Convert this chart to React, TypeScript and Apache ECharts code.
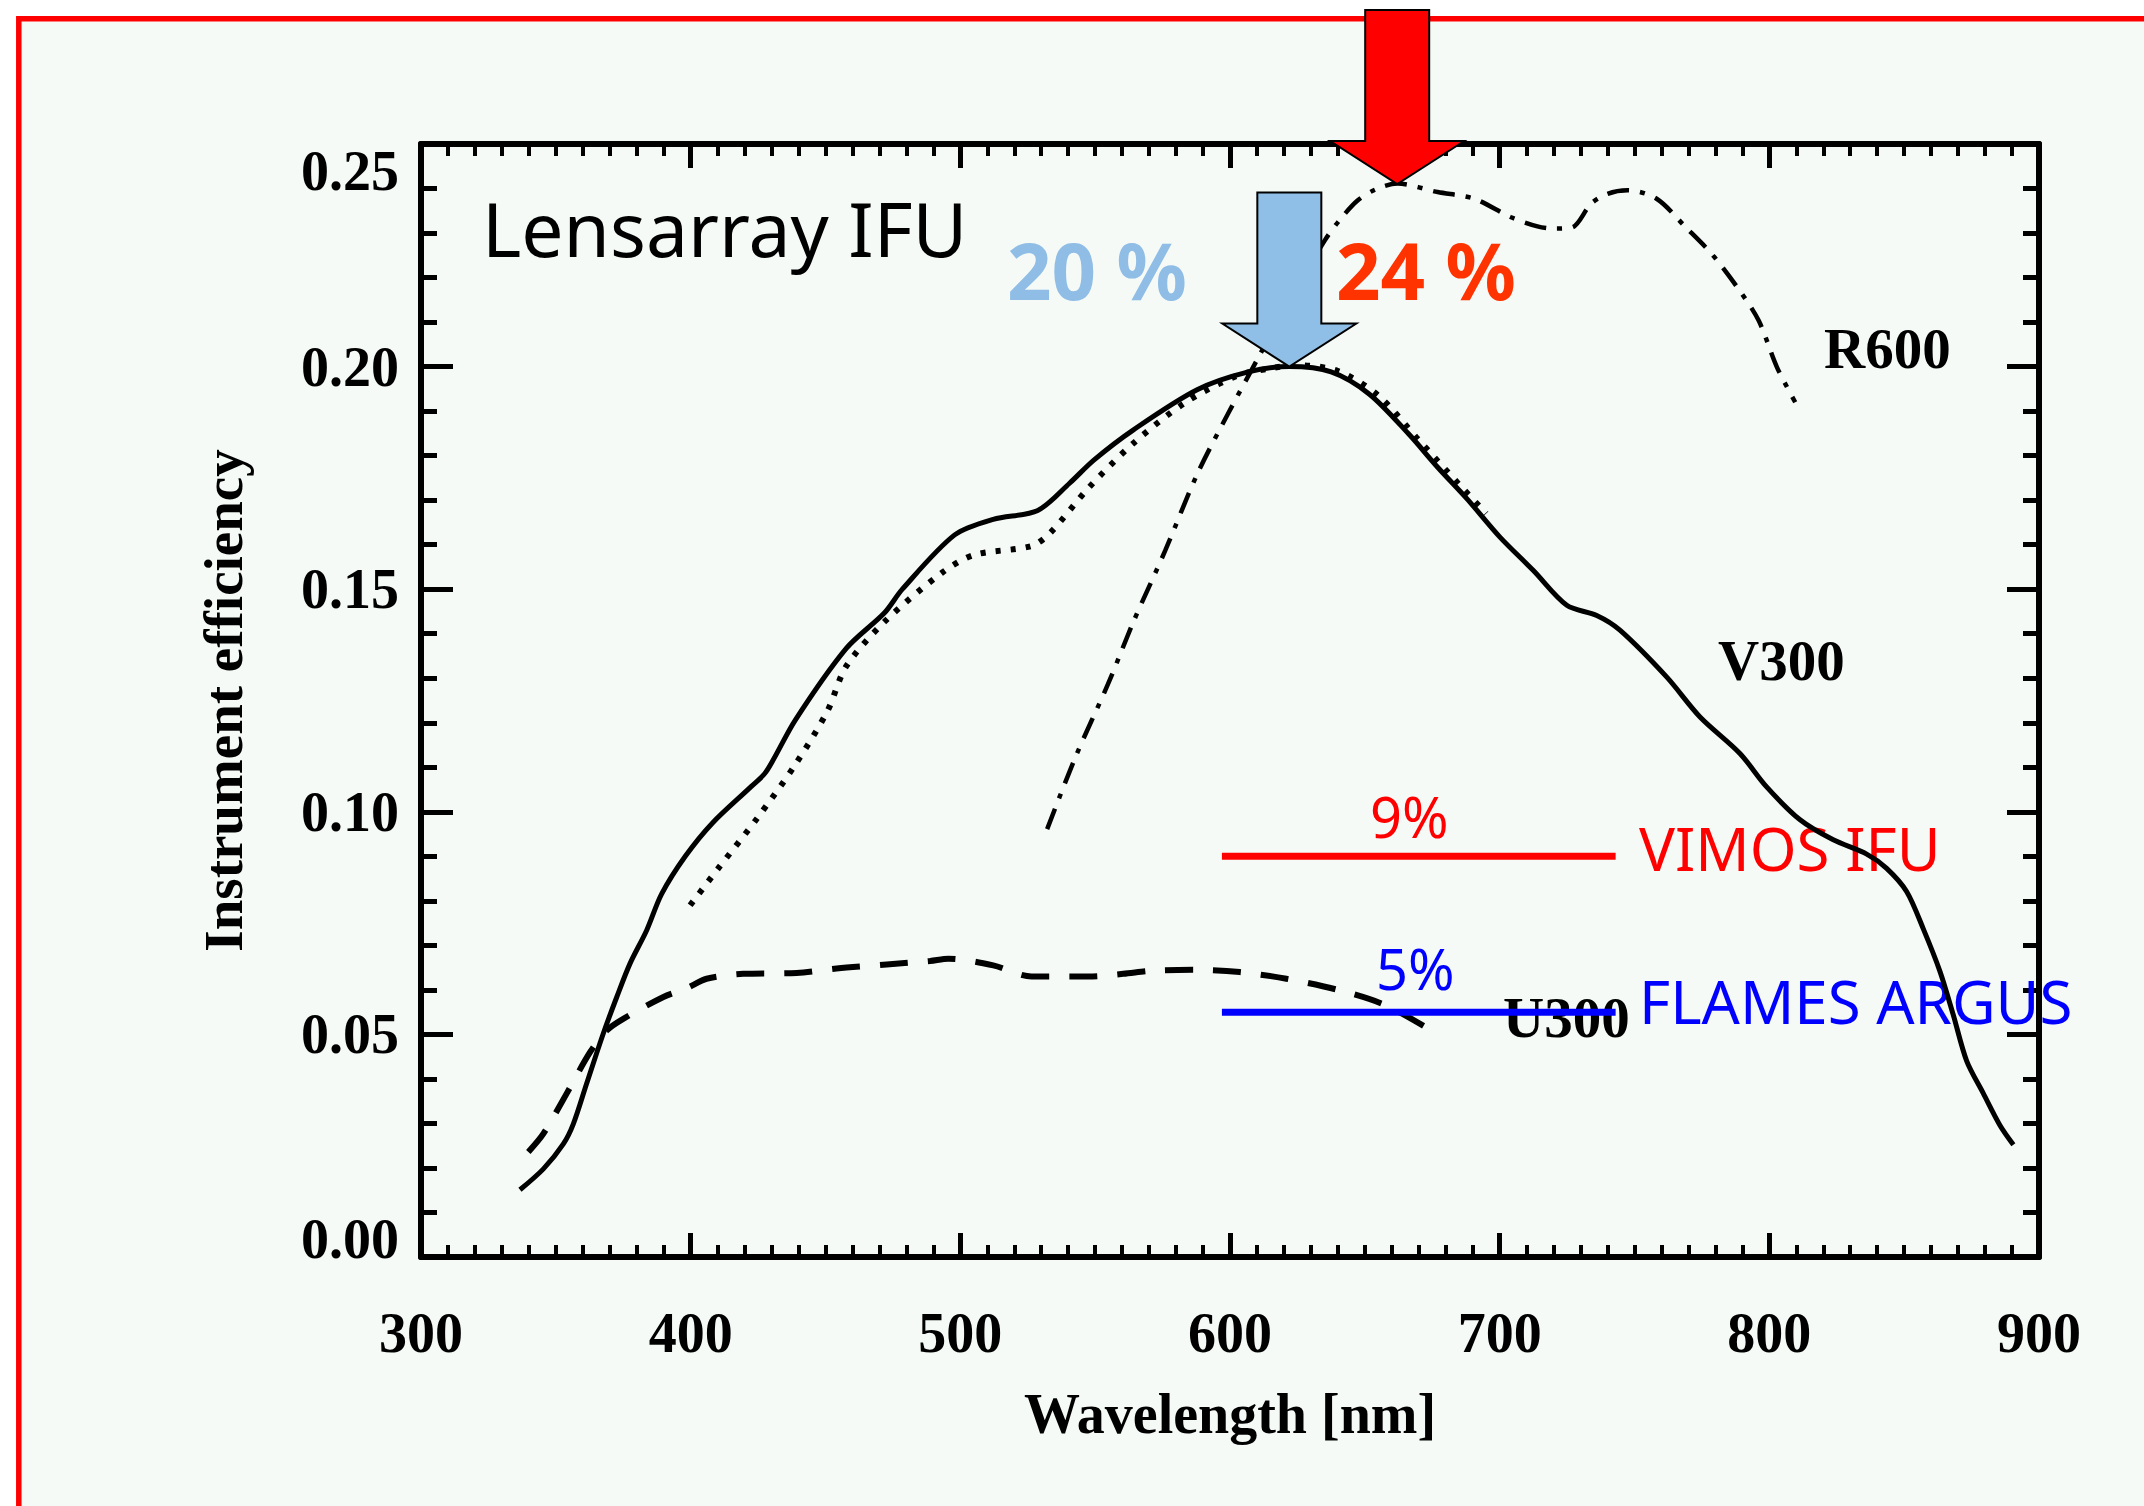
import React, { useEffect, useRef } from "react";
import * as echarts from "echarts";

// ---- data ----
const xTicks = { min: 300, max: 900, interval: 100 };
const yTicks = { min: 0, max: 0.25, interval: 0.05 };

const v300Wavelength = [336.7, 345.4, 352.8, 356.5, 361.4, 367.6, 372.6, 377.5, 383.7, 389.2, 398, 408.1, 422.3, 428, 438.8, 457.7, 471.9, 478.5, 497.9, 512.2, 528.7, 540.5, 549.5, 564.2, 587.8, 606.8, 622, 637.5, 651.7, 666.2, 677, 687.9, 700.1, 712.5, 724.9, 736, 744.6, 761.9, 774.3, 789.1, 799, 811.4, 823.7, 836.1, 843.5, 850.9, 857.1, 863.3, 868.2, 873.2, 879.3, 885.5, 890.5];
const v300Efficiency = [0.0151, 0.0198, 0.0254, 0.0299, 0.0389, 0.0502, 0.0584, 0.0659, 0.0734, 0.0815, 0.09, 0.0975, 0.1056, 0.109, 0.1206, 0.1367, 0.1447, 0.15, 0.1622, 0.1657, 0.1677, 0.1738, 0.179, 0.1858, 0.1948, 0.1988, 0.2, 0.1988, 0.1938, 0.1849, 0.1774, 0.1703, 0.1617, 0.1542, 0.1464, 0.1441, 0.1408, 0.1303, 0.1213, 0.1131, 0.1056, 0.0982, 0.0937, 0.0905, 0.0873, 0.0821, 0.0737, 0.0641, 0.0544, 0.044, 0.0368, 0.0296, 0.0252];

const v300bWavelength = [399.8, 410.5, 424.6, 438.8, 450.7, 457.7, 471.9, 493.2, 505.1, 526.4, 533.4, 547.6, 564.2, 583.1, 602, 614, 625, 640, 655, 670, 685, 695];
const v300bEfficiency = [0.079, 0.0875, 0.0985, 0.1106, 0.1226, 0.1327, 0.1427, 0.1537, 0.1577, 0.1597, 0.1627, 0.1728, 0.1828, 0.1918, 0.1978, 0.1995, 0.2003, 0.199, 0.1935, 0.1835, 0.1735, 0.167];

const r600Wavelength = [532.2, 542.9, 554.7, 564.2, 576, 587.8, 599.6, 610.3, 622, 635.1, 640.5, 647.3, 654, 662.1, 677, 690.6, 704, 714, 720.3, 727, 733.9, 740, 747.4, 758.2, 769, 778.5, 788, 796, 802.8, 809.6];
const r600Efficiency = [0.0961, 0.1126, 0.1286, 0.1427, 0.1587, 0.1758, 0.1898, 0.2018, 0.215, 0.2283, 0.2328, 0.2373, 0.2398, 0.2411, 0.2392, 0.2377, 0.2336, 0.2315, 0.231, 0.2313, 0.2366, 0.2388, 0.2396, 0.2377, 0.2313, 0.2254, 0.2179, 0.2104, 0.1999, 0.192];

const u300Wavelength = [339.8, 345.4, 354, 362.7, 368.9, 375, 389.9, 398.6, 405.9, 419.5, 439.3, 454.1, 472.7, 488.8, 495.6, 512.2, 526.4, 547.6, 560.4, 571.3, 588.8, 603.6, 620.9, 640.7, 657.9, 676.5];
const u300Efficiency = [0.0236, 0.0277, 0.0367, 0.046, 0.0509, 0.0535, 0.0584, 0.0604, 0.0625, 0.0636, 0.0638, 0.0648, 0.0657, 0.0665, 0.067, 0.0655, 0.063, 0.063, 0.0636, 0.0643, 0.0645, 0.064, 0.0625, 0.0599, 0.0565, 0.0502];

const vimosRange = [597, 743];
const vimosLevel = 0.09;
const argusRange = [597, 743];
const argusLevel = 0.055;

const blueArrowTip = [622, 0.2];
const redArrowTip = [662, 0.241];

const pairs = (xs: number[], ys: number[]) => xs.map((x, i) => [x, ys[i]]);

const serif = "'Liberation Serif', 'Times New Roman', serif";
const sans = "'Noto Sans', 'DejaVu Sans', sans-serif";

function arrow(id: string, tip: number[], fill: string) {
  const [tx, ty] = tip;
  const sw = 32, hw = 67, hh = 43, sl = 131;
  return {
    id,
    type: "polygon",
    z: 20,
    silent: true,
    shape: {
      points: [
        [tx - sw, ty - hh - sl],
        [tx + sw, ty - hh - sl],
        [tx + sw, ty - hh],
        [tx + hw, ty - hh],
        [tx, ty],
        [tx - hw, ty - hh],
        [tx - sw, ty - hh],
      ],
    },
    style: { fill, stroke: "#000000", lineWidth: 2 },
  };
}

function label(id: string, text: string, x: number, y: number, size: number, family: string, fill: string, weight = "normal", scaleX = 1) {
  return {
    id,
    type: "text",
    z: 1,
    silent: true,
    x,
    y,
    scaleX,
    style: {
      text,
      fill,
      fontSize: size,
      fontFamily: family,
      fontWeight: weight,
      textAlign: "left",
      textVerticalAlign: "middle",
    },
  };
}

export default function App() {
  const ref = useRef<HTMLDivElement>(null);

  useEffect(() => {
    if (!ref.current) return;
    const chart = echarts.init(ref.current, null, { renderer: "svg" });

    const axisFont = { fontFamily: serif, fontWeight: "bold" as const, fontSize: 56, color: "#000" };
    const lineCommon = { onZero: false, lineStyle: { color: "#000", width: 6 } };
    const xTick = { show: true, inside: true, length: 24, lineStyle: { color: "#000", width: 5 } };
    const xMinor = { show: true, splitNumber: 10, length: 12, lineStyle: { color: "#000", width: 4 } };
    const yTick = { show: true, inside: true, length: 32, lineStyle: { color: "#000", width: 5 } };
    const yMinor = { show: true, splitNumber: 5, length: 16, lineStyle: { color: "#000", width: 5 } };

    const option: any = {
      animation: false,
      backgroundColor: "#ffffff",
      grid: { left: 421, top: 144, width: 1618, height: 1113, containLabel: false },
      xAxis: [
        {
          type: "value",
          position: "bottom",
          min: xTicks.min,
          max: xTicks.max,
          interval: xTicks.interval,
          axisLine: lineCommon,
          axisTick: xTick,
          minorTick: xMinor,
          splitLine: { show: false },
          axisLabel: { ...axisFont, margin: 48 },
          name: "Wavelength [nm]",
          nameLocation: "middle",
          nameGap: 129,
          nameTextStyle: { fontFamily: serif, fontWeight: "bold", fontSize: 56, color: "#000" },
        },
        {
          type: "value",
          position: "top",
          min: xTicks.min,
          max: xTicks.max,
          interval: xTicks.interval,
          axisLine: lineCommon,
          axisTick: xTick,
          minorTick: xMinor,
          splitLine: { show: false },
          axisLabel: { show: false },
        },
      ],
      yAxis: [
        {
          type: "value",
          position: "left",
          min: yTicks.min,
          max: yTicks.max,
          interval: yTicks.interval,
          axisLine: lineCommon,
          axisTick: yTick,
          minorTick: yMinor,
          splitLine: { show: false },
          axisLabel: {
            ...axisFont,
            margin: 22,
            formatter: (v: number) => {
              const s = v.toFixed(2);
              if (Math.abs(v - yTicks.max) < 1e-9) return "{hi|" + s + "}";
              if (Math.abs(v - yTicks.min) < 1e-9) return "{lo|" + s + "}";
              return s;
            },
            rich: {
              hi: { ...axisFont, padding: [54, 0, 0, 0] },
              lo: { ...axisFont, padding: [0, 0, 36, 0] },
            },
          },
          name: "Instrument efficiency",
          nameLocation: "middle",
          nameGap: 170,
          nameTextStyle: { fontFamily: serif, fontWeight: "bold", fontSize: 55, color: "#000" },
        },
        {
          type: "value",
          position: "right",
          min: yTicks.min,
          max: yTicks.max,
          interval: yTicks.interval,
          axisLine: lineCommon,
          axisTick: yTick,
          minorTick: yMinor,
          splitLine: { show: false },
          axisLabel: { show: false },
        },
      ],
      series: [
        {
          name: "U300",
          type: "line",
          showSymbol: false,
          smooth: 0.3,
          data: pairs(u300Wavelength, u300Efficiency),
          lineStyle: { color: "#000", width: 6, type: [28, 20] },
        },
        {
          name: "R600",
          type: "line",
          showSymbol: false,
          smooth: 0.3,
          data: pairs(r600Wavelength, r600Efficiency),
          lineStyle: { color: "#000", width: 4.5, type: [22, 11, 5, 11] },
        },
        {
          name: "V300 (dotted)",
          type: "line",
          showSymbol: false,
          smooth: 0.3,
          data: pairs(v300bWavelength, v300bEfficiency),
          lineStyle: { color: "#000", width: 6, type: [5, 10] },
        },
        {
          name: "V300",
          type: "line",
          showSymbol: false,
          smooth: 0.3,
          data: pairs(v300Wavelength, v300Efficiency),
          lineStyle: { color: "#000", width: 5 },
        },
        {
          name: "VIMOS IFU",
          type: "line",
          showSymbol: false,
          data: vimosRange.map((x) => [x, vimosLevel]),
          lineStyle: { color: "#ff0000", width: 7 },
        },
        {
          name: "FLAMES ARGUS",
          type: "line",
          showSymbol: false,
          data: argusRange.map((x) => [x, argusLevel]),
          lineStyle: { color: "#0000ff", width: 7 },
        },
      ],
    };

    chart.setOption(option);

    const b = chart.convertToPixel({ xAxisIndex: 0, yAxisIndex: 0 }, blueArrowTip) as number[];
    const r = chart.convertToPixel({ xAxisIndex: 0, yAxisIndex: 0 }, redArrowTip) as number[];

    chart.setOption({
      graphic: [
        {
          id: "frame",
          type: "rect",
          z: -10,
          silent: true,
          shape: { x: 18.8, y: 18.7, width: 2300, height: 1700 },
          style: { fill: "#f5faf7", stroke: "#ff0000", lineWidth: 5.5 },
        },
        label("lens", "Lensarray IFU", 482, 228, 75, sans, "#000000"),
        label("p20", "20 %", 1007, 270, 78, sans, "#8fbde6", "bold"),
        label("p24", "24 %", 1336, 270, 78, sans, "#ff3300", "bold"),
        label("r600", "R600", 1824, 348, 57, serif, "#000000", "bold"),
        label("v300", "V300", 1718, 660, 57, serif, "#000000", "bold"),
        label("u300", "U300", 1503, 1017, 57, serif, "#000000", "bold"),
        label("p9", "9%", 1370, 816, 56, sans, "#ff0000"),
        label("vimos", "VIMOS IFU", 1639, 848, 60, sans, "#ff0000"),
        label("p5", "5%", 1376, 968, 56, sans, "#0000ff"),
        label("argus", "FLAMES ARGUS", 1639, 1001, 60, sans, "#0000ff"),
        arrow("blueArrow", b, "#8fbfe6"),
        arrow("redArrow", r, "#ff0000"),
      ],
    });

    return () => chart.dispose();
  }, []);

  return <div ref={ref} style={{ position: "absolute", left: 0, top: 0, width: 2144, height: 1506 }} />;
}
